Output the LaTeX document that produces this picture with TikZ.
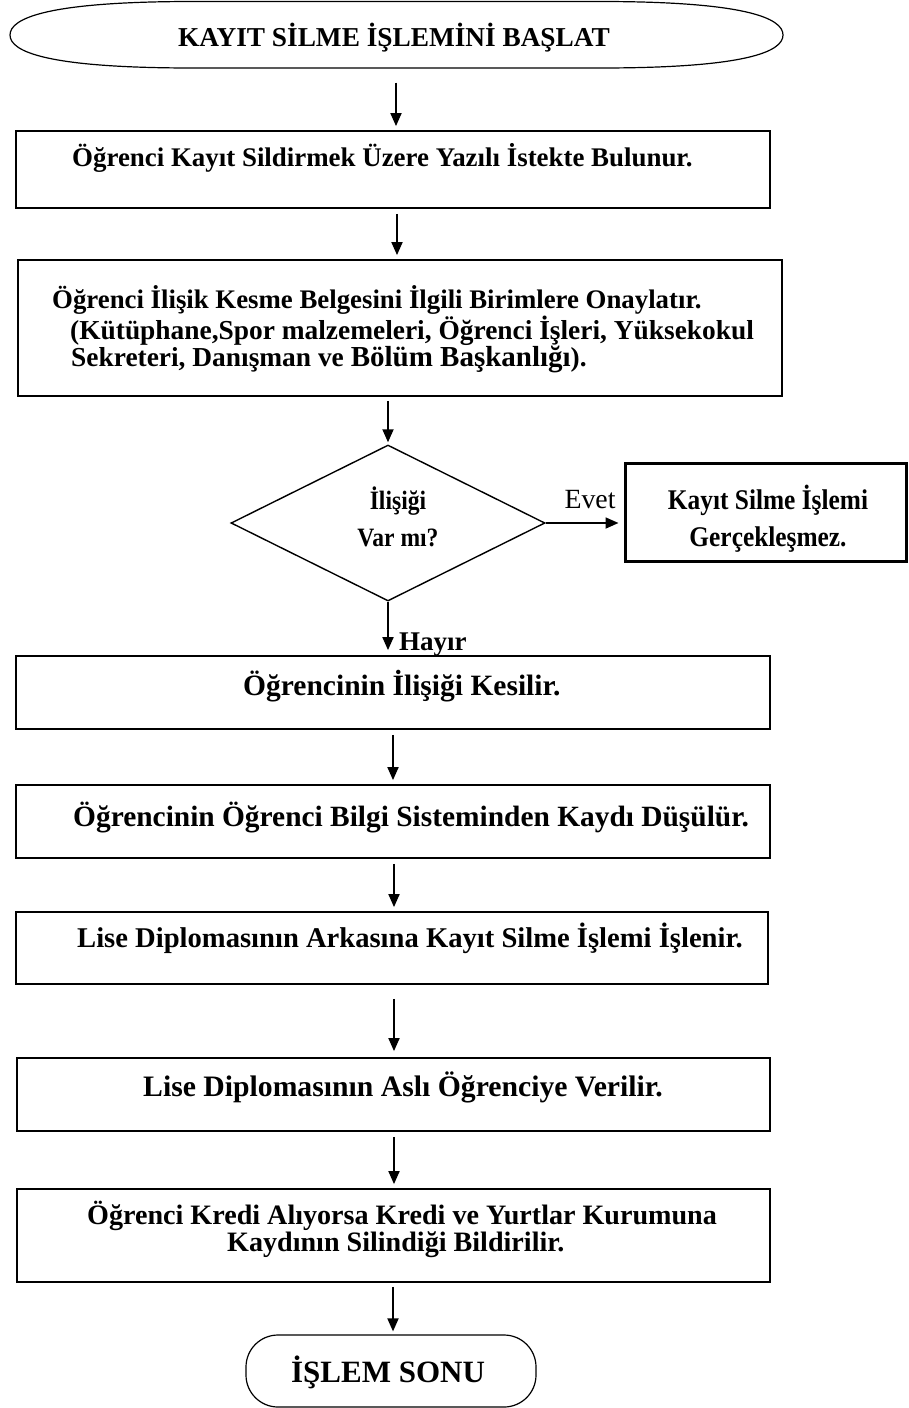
\documentclass[tikz,border=0pt]{standalone}
\usepackage{fontspec}
\setmainfont{Liberation Serif}
\newfontfamily\narrowfont{Liberation Serif}[FakeStretch=0.89]
\usetikzlibrary{arrows.meta,shapes.geometric}

\begin{document}
\begin{tikzpicture}[x=1pt,y=-1pt,
  box/.style={draw, line width=1.8pt, inner sep=0},
  txt/.style={inner sep=0, anchor=base west, font=\fontsize{#1}{#1}\selectfont\bfseries},
  ctxt/.style={inner sep=0, anchor=base, font=\fontsize{#1}{#1}\selectfont\bfseries},
  ntxt/.style={inner sep=0, anchor=base, font=\narrowfont\fontsize{#1}{#1}\selectfont\bfseries},
  arr/.style={line width=1.8pt, -{Triangle[length=13pt,width=11pt]}, shorten <=5pt, shorten >=4pt}
]
\fill[white] (0,0) rectangle (908,1408);
\useasboundingbox (0,0) rectangle (908,1408);

% start terminal
\draw[line width=1.2pt] (193,1.5) -- (600,1.5)
  .. controls (745,1.5) and (783,18) .. (783,35)
  .. controls (783,52) and (745,68) .. (600,68) -- (193,68)
  .. controls (48,68) and (10,52) .. (10,35)
  .. controls (10,18) and (48,1.5) .. (193,1.5) -- cycle;
\node[inner sep=0, minimum width=773, minimum height=67] (t0) at (396.5,35) {};
\node[ctxt=27.3] (t0x) at (394,46) {KAYIT SİLME İŞLEMİNİ BAŞLAT};

% process boxes
\node[box, minimum width=754, minimum height=77] (b1) at (393,169.5) {};
\node[txt=26.9] (b1x) at (72,166) {Öğrenci Kayıt Sildirmek Üzere Yazılı İstekte Bulunur.};

\node[box, minimum width=764, minimum height=136] (b2) at (400,328) {};
\node[txt=26.8] (b2x1) at (52,308) {Öğrenci İlişik Kesme Belgesini İlgili Birimlere Onaylatır.};
\node[txt=27.4] (b2x2) at (70,339) {(Kütüphane,Spor malzemeleri, Öğrenci İşleri, Yüksekokul};
\node[txt=27.4] (b2x3) at (71,366) {Sekreteri, Danışman ve {\fontsize{29}{29}\selectfont Bölüm Başkanlığı}).};

% decision
\node[draw, line width=1.4pt, shape=diamond, inner sep=0, minimum width=314, minimum height=156] (d) at (388,523) {};
\node[ntxt=26.5] (dx1) at (398,509) {İlişiği};
\node[ntxt=26.5] (dx2) at (398,546) {Var mı?};

\node[draw, line width=3pt, inner sep=0, minimum width=281, minimum height=98] (r) at (765.5,512) {};
\node[ntxt=28.5] (rx1) at (768,509.5) {Kayıt Silme İşlemi};
\node[ntxt=28.5] (rx2) at (768,546.5) {Gerçekleşmez.};

\node[box, minimum width=754, minimum height=73] (b3) at (393,692.5) {};
\node[txt=29.5] (b3x) at (243,695) {Öğrencinin İlişiği Kesilir.};

\node[box, minimum width=754, minimum height=73] (b4) at (393,821.5) {};
\node[txt=29.4] (b4x) at (73,826) {Öğrencinin Öğrenci Bilgi Sisteminden Kaydı Düşülür.};

\node[box, minimum width=752, minimum height=72] (b5) at (392,948) {};
\node[txt=28.6] (b5x) at (77,947.5) {Lise Diplomasının Arkasına Kayıt Silme İşlemi İşlenir.};

\node[box, minimum width=753, minimum height=73] (b6) at (393.5,1094.5) {};
\node[txt=29.7] (b6x) at (143,1096) {Lise Diplomasının Aslı Öğrenciye Verilir.};

\node[box, minimum width=753, minimum height=93] (b7) at (393.5,1235.5) {};
\node[txt=28.1] (b7x1) at (87,1224) {Öğrenci Kredi Alıyorsa Kredi ve Yurtlar Kurumuna};
\node[txt=28.1] (b7x2) at (227,1251) {Kaydının Silindiği Bildirilir.};

% end terminal
\node[draw, line width=1.2pt, rounded corners=32pt, inner sep=0, minimum width=290, minimum height=72] (e) at (391,1371) {};
\node[ctxt=31] (ex) at (388,1382) {İŞLEM SONU};

% arrow columns
\coordinate (c1) at (396,0);
\coordinate (c2) at (397,0);
\coordinate (c3) at (388,0);
\coordinate (c4) at (393,0);
\coordinate (c5) at (394,0);

% connectors
\draw[arr, shorten <=14pt] (t0.south -| c1) -- (b1.north -| c1);
\draw[arr] (b1.south -| c2) -- (b2.north -| c2);
\draw[arr, shorten <=4pt, shorten >=2pt] (b2.south -| c3) -- (d.north);
\draw[arr, shorten <=0pt, shorten >=5pt] (d.east) -- (r.west |- d.east);
\node[inner sep=0, anchor=base, font=\fontsize{27.8}{27.8}\selectfont] (ev) at (590,508) {Evet};
\draw[arr, shorten <=0pt, shorten >=5pt] (d.south) -- (b3.north -| c3);
\node[txt=27] (hy) at (399,650) {Hayır};
\draw[arr] (b3.south -| c4) -- (b4.north -| c4);
\draw[arr] (b4.south -| c5) -- (b5.north -| c5);
\draw[arr, shorten <=14pt, shorten >=6pt] (b5.south -| c5) -- (b6.north -| c5);
\draw[arr] (b6.south -| c5) -- (b7.north -| c5);
\draw[arr, shorten <=4pt, shorten >=3pt] (b7.south -| c4) -- (e.north -| c4);
\end{tikzpicture}
\end{document}
